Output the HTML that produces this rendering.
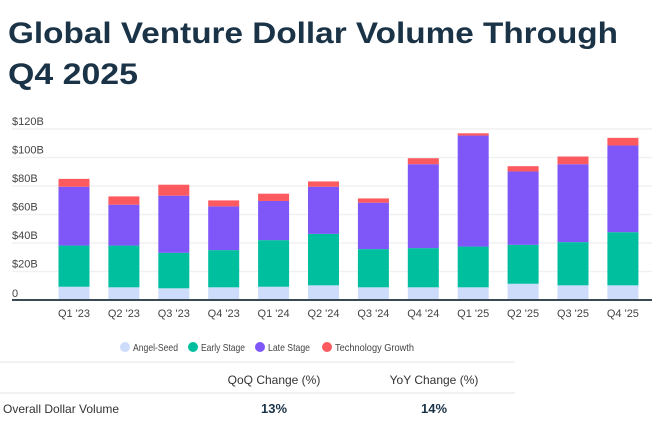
<!DOCTYPE html>
<html><head><meta charset="utf-8"><style>
html,body{margin:0;padding:0;background:#fff;}
svg{display:block;font-family:"Liberation Sans",sans-serif;}
</style></head><body>
<svg id="chart" width="660" height="430" viewBox="0 0 660 430">
<text x="8" y="43" font-size="30" font-weight="bold" fill="#1a3347" textLength="610" lengthAdjust="spacingAndGlyphs">Global Venture Dollar Volume Through</text>
<text x="8" y="84" font-size="30" font-weight="bold" fill="#1a3347" textLength="130" lengthAdjust="spacingAndGlyphs">Q4 2025</text>
<g id="grid"></g>
<g id="bars"></g>
<g id="xlabels"></g>
<line x1="12" x2="652" y1="300" y2="300" stroke="#3a4a55" stroke-width="2"/>
<g font-size="10.5" fill="#444">
<circle cx="125" cy="347" r="5" fill="#cddcfb"/>
<text x="133" y="351" textLength="45" lengthAdjust="spacingAndGlyphs">Angel-Seed</text>
<circle cx="193" cy="347" r="5" fill="#00bf9f"/>
<text x="201" y="351" textLength="44" lengthAdjust="spacingAndGlyphs">Early Stage</text>
<circle cx="260" cy="347" r="5" fill="#7f57f8"/>
<text x="268" y="351" textLength="42" lengthAdjust="spacingAndGlyphs">Late Stage</text>
<circle cx="327" cy="347" r="5" fill="#fd5a5f"/>
<text x="335" y="351" textLength="79" lengthAdjust="spacingAndGlyphs">Technology Growth</text>
</g>
<line x1="0" x2="515" y1="362" y2="362" stroke="#eceef0" stroke-width="1.5"/>
<text x="274" y="384" font-size="12" fill="#333" text-anchor="middle">QoQ Change (%)</text>
<text x="434" y="384" font-size="12" fill="#333" text-anchor="middle">YoY Change (%)</text>
<line x1="0" x2="515" y1="393" y2="393" stroke="#eceef0" stroke-width="1.5"/>
<text x="3" y="413" font-size="12" fill="#333">Overall Dollar Volume</text>
<text x="274" y="413" font-size="13" font-weight="bold" fill="#1a3347" text-anchor="middle">13%</text>
<text x="434" y="413" font-size="13" font-weight="bold" fill="#1a3347" text-anchor="middle">14%</text>
</svg>
<script>
const categories = ["Q1 '23","Q2 '23","Q3 '23","Q4 '23","Q1 '24","Q2 '24","Q3 '24","Q4 '24","Q1 '25","Q2 '25","Q3 '25","Q4 '25"];
const angelSeed = [9.3, 8.9, 8.2, 8.9, 9.3, 10.3, 8.9, 8.9, 8.9, 11.4, 10.3, 10.3];
const earlyStage = [28.9, 29.3, 24.9, 26.1, 32.7, 36.1, 26.8, 27.5, 28.6, 27.3, 30.3, 37.3];
const lateStage = [41.3, 28.7, 40.1, 30.7, 27.5, 33.1, 32.6, 58.9, 77.9, 51.5, 54.7, 60.8];
const techGrowth = [5.5, 5.8, 7.7, 4.2, 5.1, 3.7, 3.0, 4.2, 1.6, 3.7, 5.4, 5.4];
const yTicks = [0, 20, 40, 60, 80, 100, 120];
const yTickLabels = ["0", "$20B", "$40B", "$60B", "$80B", "$100B", "$120B"];
const NS = "http://www.w3.org/2000/svg";
const y = v => 300 - v * (171 / 120);
const x = i => 74 + i * 49.9;
const barW = 31;
const grid = document.getElementById("grid");
yTicks.forEach((t, i) => {
  if (t > 0) {
    const l = document.createElementNS(NS, "line");
    l.setAttribute("x1", 12); l.setAttribute("x2", 652);
    l.setAttribute("y1", y(t)); l.setAttribute("y2", y(t));
    l.setAttribute("stroke", "#f0f1f2"); l.setAttribute("stroke-width", "1.5");
    
    
    grid.appendChild(l);
  }
  const tx = document.createElementNS(NS, "text");
  tx.setAttribute("x", 12); tx.setAttribute("y", y(t) - (t > 0 ? 4 : 3));
  tx.setAttribute("font-size", "11"); tx.setAttribute("fill", "#444");
  tx.textContent = yTickLabels[i];
  
  
  grid.appendChild(tx);
});
const series = [
  {vals: angelSeed, color: "#cddcfb", name: "angel-seed"},
  {vals: earlyStage, color: "#00bf9f", name: "early-stage"},
  {vals: lateStage, color: "#7f57f8", name: "late-stage"},
  {vals: techGrowth, color: "#fd5a5f", name: "technology-growth"}
];
const bars = document.getElementById("bars");
const xl = document.getElementById("xlabels");
categories.forEach((c, i) => {
  let base = 0;
  series.forEach(s => {
    const v = s.vals[i];
    const r = document.createElementNS(NS, "rect");
    r.setAttribute("x", x(i) - barW / 2);
    r.setAttribute("y", y(base + v));
    r.setAttribute("width", barW);
    r.setAttribute("height", y(base) - y(base + v));
    r.setAttribute("fill", s.color);
    
    
    bars.appendChild(r);
    base += v;
  });
  const t = document.createElementNS(NS, "text");
  t.setAttribute("x", x(i)); t.setAttribute("y", 317);
  t.setAttribute("font-size", "11"); t.setAttribute("fill", "#444");
  t.setAttribute("text-anchor", "middle");
  t.textContent = c;
  
  
  xl.appendChild(t);
});
</script>
</body></html>
